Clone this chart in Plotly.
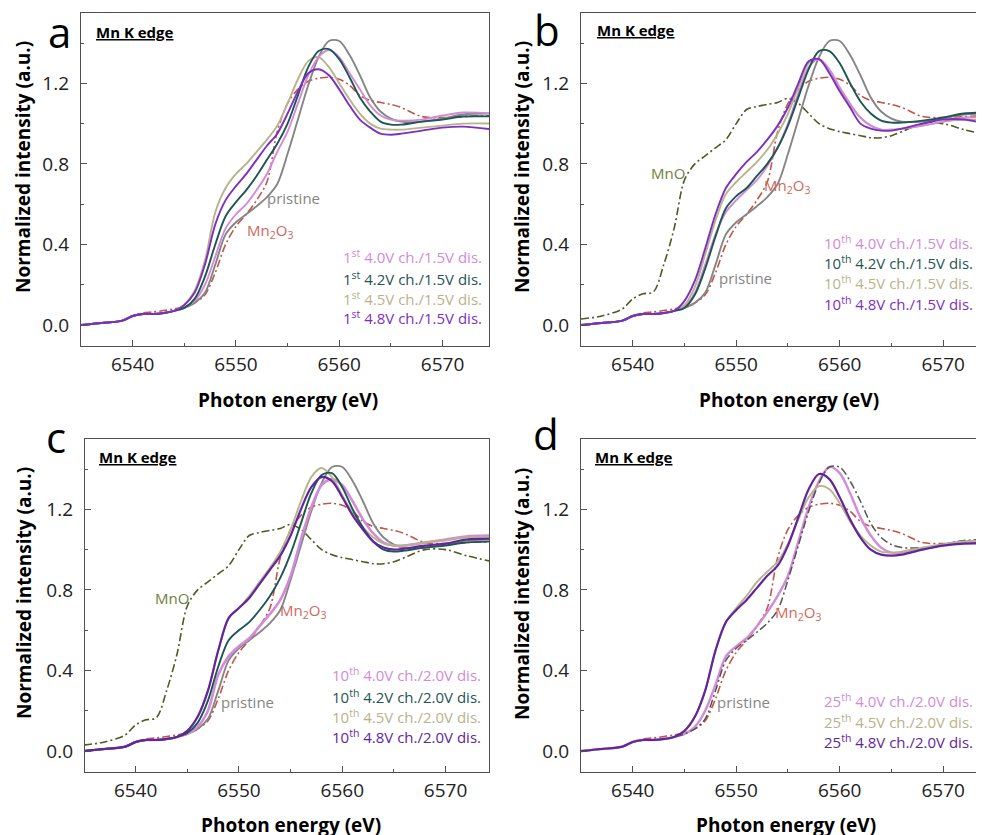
import plotly.graph_objects as go

# ---------------- data ----------------
energy = [6535, 6537, 6539, 6540, 6541, 6542, 6543, 6544, 6545, 6546, 6547, 6548, 6549, 6550,
          6551, 6552, 6553, 6554, 6555, 6556, 6557, 6558, 6559, 6560, 6561, 6562, 6563, 6564,
          6565, 6566, 6568, 6570, 6572, 6575]

pre = [0.0, 0.01, 0.022, 0.045, 0.055, 0.055, 0.06, 0.07]  # 6535..6544 pre-edge

pristine = pre + [0.085, 0.11, 0.16, 0.3, 0.45, 0.51, 0.55, 0.59, 0.635, 0.7, 0.85, 1.02, 1.19, 1.33,
                  1.41, 1.41, 1.34, 1.24, 1.13, 1.06, 1.025, 1.01, 1.01, 1.025, 1.045, 1.05]
mn2o3 = [0.0, 0.01, 0.022, 0.045, 0.06, 0.065, 0.072, 0.08, 0.09, 0.11, 0.15, 0.26, 0.4, 0.49,
         0.55, 0.62, 0.71, 0.96, 1.1, 1.17, 1.21, 1.225, 1.23, 1.22, 1.19, 1.14, 1.115, 1.105,
         1.095, 1.08, 1.035, 1.03, 1.035, 1.04]
mno = [0.03, 0.045, 0.08, 0.13, 0.155, 0.165, 0.3, 0.48, 0.72, 0.8, 0.84, 0.88, 0.92, 1.0,
       1.07, 1.085, 1.095, 1.105, 1.125, 1.1, 1.05, 1.0, 0.975, 0.96, 0.95, 0.94, 0.93, 0.93,
       0.94, 0.96, 1.0, 1.0, 0.97, 0.935]

# panel a: 1st cycle, 1.5 V discharge
a_40 = pre + [0.085, 0.12, 0.2, 0.34, 0.48, 0.55, 0.6, 0.67, 0.75, 0.86, 0.96, 1.1, 1.24, 1.33,
              1.365, 1.33, 1.25, 1.17, 1.09, 1.04, 1.02, 1.015, 1.02, 1.04, 1.055, 1.05]
a_42 = pre + [0.085, 0.13, 0.24, 0.4, 0.54, 0.61, 0.67, 0.74, 0.82, 0.9, 1.0, 1.14, 1.28, 1.36,
              1.37, 1.32, 1.23, 1.13, 1.06, 1.01, 0.995, 0.995, 1.01, 1.02, 1.035, 1.035]
a_45 = pre + [0.1, 0.17, 0.32, 0.56, 0.68, 0.75, 0.8, 0.86, 0.92, 0.99, 1.1, 1.22, 1.31, 1.33,
              1.28, 1.2, 1.12, 1.05, 1.0, 0.975, 0.97, 0.97, 0.98, 0.99, 1.0, 1.0]
a_48 = pre + [0.1, 0.16, 0.3, 0.5, 0.62, 0.69, 0.75, 0.82, 0.89, 0.95, 1.05, 1.16, 1.25, 1.27,
              1.24, 1.17, 1.09, 1.02, 0.98, 0.95, 0.945, 0.95, 0.965, 0.98, 0.985, 0.97]

# panel b: 10th cycle, 1.5 V discharge
b_40 = pre + [0.09, 0.16, 0.3, 0.45, 0.56, 0.62, 0.67, 0.72, 0.79, 0.88, 1.0, 1.15, 1.28, 1.32,
              1.27, 1.18, 1.1, 1.03, 0.99, 0.97, 0.97, 0.975, 0.99, 1.01, 1.03, 1.03]
b_42 = pre + [0.085, 0.15, 0.28, 0.44, 0.58, 0.64, 0.68, 0.74, 0.8, 0.88, 0.99, 1.13, 1.27, 1.36,
              1.36, 1.3, 1.2, 1.11, 1.05, 1.015, 1.005, 1.005, 1.015, 1.03, 1.05, 1.055]
b_45 = pre + [0.1, 0.19, 0.35, 0.52, 0.65, 0.71, 0.76, 0.81, 0.87, 0.95, 1.05, 1.18, 1.3, 1.32,
              1.26, 1.17, 1.09, 1.03, 0.99, 0.97, 0.97, 0.975, 0.99, 1.01, 1.02, 1.02]
b_48 = pre + [0.12, 0.22, 0.38, 0.55, 0.68, 0.75, 0.81, 0.86, 0.92, 0.99, 1.08, 1.2, 1.31, 1.32,
              1.25, 1.16, 1.08, 1.0, 0.975, 0.965, 0.965, 0.975, 1.0, 1.02, 1.02, 0.99]

# panel c: 10th cycle, 2.0 V discharge
c_40 = pre + [0.085, 0.12, 0.2, 0.38, 0.47, 0.52, 0.56, 0.62, 0.68, 0.75, 0.87, 1.05, 1.21, 1.32,
              1.35, 1.32, 1.24, 1.15, 1.08, 1.035, 1.02, 1.02, 1.035, 1.05, 1.065, 1.07]
c_42 = pre + [0.09, 0.14, 0.25, 0.42, 0.55, 0.6, 0.64, 0.7, 0.77, 0.86, 0.98, 1.13, 1.28, 1.37,
              1.38, 1.31, 1.2, 1.11, 1.04, 1.0, 0.99, 0.995, 1.01, 1.02, 1.035, 1.04]
c_45 = pre + [0.1, 0.17, 0.3, 0.5, 0.66, 0.71, 0.77, 0.84, 0.91, 0.99, 1.1, 1.24, 1.36, 1.405,
              1.36, 1.27, 1.18, 1.11, 1.06, 1.03, 1.02, 1.02, 1.035, 1.045, 1.06, 1.065]
c_48 = pre + [0.1, 0.17, 0.3, 0.5, 0.66, 0.71, 0.76, 0.83, 0.9, 0.97, 1.07, 1.2, 1.31, 1.36,
              1.34, 1.26, 1.17, 1.1, 1.04, 1.01, 1.0, 1.005, 1.02, 1.03, 1.05, 1.055]

# panel d: 25th cycle, 2.0 V discharge
d_40 = pre + [0.085, 0.12, 0.2, 0.33, 0.47, 0.52, 0.56, 0.62, 0.69, 0.77, 0.87, 1.04, 1.21, 1.34,
              1.41, 1.38, 1.28, 1.16, 1.07, 1.01, 0.985, 0.985, 1.005, 1.025, 1.04, 1.04]
d_45 = pre + [0.1, 0.17, 0.3, 0.5, 0.64, 0.71, 0.77, 0.84, 0.89, 0.94, 1.03, 1.15, 1.26, 1.315,
              1.3, 1.23, 1.14, 1.07, 1.02, 0.99, 0.985, 0.99, 1.01, 1.025, 1.04, 1.045]
d_48 = pre + [0.1, 0.17, 0.3, 0.5, 0.64, 0.7, 0.75, 0.81, 0.87, 0.92, 1.02, 1.16, 1.3, 1.375,
              1.35, 1.26, 1.15, 1.06, 1.0, 0.975, 0.97, 0.975, 1.0, 1.02, 1.03, 1.03]

labels_a = ["1<sup>st</sup> 4.0V ch./1.5V dis.", "1<sup>st</sup> 4.2V ch./1.5V dis.",
            "1<sup>st</sup> 4.5V ch./1.5V dis.", "1<sup>st</sup> 4.8V ch./1.5V dis."]
labels_b = ["10<sup>th</sup> 4.0V ch./1.5V dis.", "10<sup>th</sup> 4.2V ch./1.5V dis.",
            "10<sup>th</sup> 4.5V ch./1.5V dis.", "10<sup>th</sup> 4.8V ch./1.5V dis."]
labels_c = ["10<sup>th</sup> 4.0V ch./2.0V dis.", "10<sup>th</sup> 4.2V ch./2.0V dis.",
            "10<sup>th</sup> 4.5V ch./2.0V dis.", "10<sup>th</sup> 4.8V ch./2.0V dis."]
labels_d = ["25<sup>th</sup> 4.0V ch./2.0V dis.", "25<sup>th</sup> 4.5V ch./2.0V dis.",
            "25<sup>th</sup> 4.8V ch./2.0V dis."]

x_ticks = [6540, 6550, 6560, 6570]
y_ticks = [0.0, 0.4, 0.8, 1.2]

# ---------------- style ----------------
OFF = 8                      # page body margin
W, H = 984 - OFF, 835 - OFF  # figure size so it fits the window
C_PINK = "#d28bd8"
C_TEAL = "#1e5654"
C_KHAKI = "#b7b38b"
C_PURPLE = "#7d2fc2"
C_PURPLE_D = "#62259c"
C_GREY = "#858585"
C_RED = "#c2554b"
C_OLIVE = "#4e5b22"
FONT = "Open Sans"
AX = "#505050"

fig = go.Figure()

# panel geometry in screen pixels: (left, top, right, bottom, xmin, xmax)
panels = {
    1: (81, 13, 489, 346, 6535.0, 6574.5),
    2: (581, 13, 984, 346, 6535.0, 6573.94),
    3: (85, 439, 489, 772, 6535.1, 6574.2),
    4: (581, 439, 984, 772, 6535.0, 6573.94),
}
YR = [-0.104, 1.549]


def px(x):
    return (x - OFF) / W


def py(y):
    return 1 - (y - OFF) / H


def add_line(k, yvals, color, dash="solid", width=1.9):
    suffix = "" if k == 1 else str(k)
    fig.add_trace(go.Scatter(
        x=energy, y=yvals, mode="lines", xaxis="x" + suffix, yaxis="y" + suffix,
        line=dict(color=color, width=width, dash=dash, shape="spline", smoothing=0.9),
        showlegend=False, hoverinfo="skip"))


DASHDOT = "8px,3px,2px,3px"

# panel a
add_line(1, mn2o3, C_RED, DASHDOT, 1.6)
add_line(1, pristine, C_GREY)
add_line(1, a_45, C_KHAKI)
add_line(1, a_40, C_PINK)
add_line(1, a_42, C_TEAL)
add_line(1, a_48, C_PURPLE)
# panel b
add_line(2, mno, C_OLIVE, DASHDOT, 1.6)
add_line(2, mn2o3, C_RED, DASHDOT, 1.6)
add_line(2, pristine, C_GREY)
add_line(2, b_45, C_KHAKI)
add_line(2, b_40, C_PINK)
add_line(2, b_42, C_TEAL)
add_line(2, b_48, C_PURPLE)
# panel c
add_line(3, mno, C_OLIVE, DASHDOT, 1.6)
add_line(3, mn2o3, C_RED, DASHDOT, 1.6)
add_line(3, pristine, C_GREY)
add_line(3, c_40, C_PINK, width=2.6)
add_line(3, c_45, C_KHAKI)
add_line(3, c_42, C_TEAL)
add_line(3, c_48, C_PURPLE_D, width=2.2)
# panel d
add_line(4, mn2o3, C_RED, DASHDOT, 1.6)
add_line(4, d_40, C_PINK, width=2.4)
add_line(4, pristine, "#555555", DASHDOT, 1.5)
add_line(4, d_45, C_KHAKI)
add_line(4, d_48, C_PURPLE_D, width=2.2)

layout = dict(width=W, height=H, margin=dict(l=0, r=0, t=0, b=0),
              paper_bgcolor="white", plot_bgcolor="white", showlegend=False)

for k, (l, t, r, b, x0, x1) in panels.items():
    suffix = "" if k == 1 else str(k)
    full_box = k in (1, 3)
    layout["xaxis" + suffix] = dict(
        domain=[px(l), min(1.0, px(r))], range=[x0, x1], anchor="y" + suffix,
        tickmode="array", tickvals=x_ticks, ticktext=[str(v) for v in x_ticks],
        ticks="inside", ticklen=6, tickwidth=1.2, tickcolor=AX,
        minor=dict(ticks="inside", ticklen=3, tickwidth=1.1, tickcolor=AX, dtick=5, tick0=6535),
        showline=True, linecolor=AX, linewidth=1.4, mirror=True,
        showgrid=False, zeroline=False, ticklabelstandoff=1,
        tickfont=dict(family=FONT, size=19, color="#222"))
    layout["yaxis" + suffix] = dict(
        domain=[py(b), py(t)], range=YR, anchor="x" + suffix,
        tickmode="array", tickvals=y_ticks, ticktext=["%.1f" % v for v in y_ticks],
        ticks="inside", ticklen=6, tickwidth=1.2, tickcolor=AX,
        minor=dict(ticks="inside", ticklen=3, tickwidth=1.1, tickcolor=AX, dtick=0.2, tick0=0),
        showline=True, linecolor=AX, linewidth=1.4, mirror=full_box,
        showgrid=False, zeroline=False, ticklabelstandoff=7,
        tickfont=dict(family=FONT, size=19, color="#222"))

fig.update_layout(**layout)

ann = []


def text(xp, yp, s, color="#000", size=14, bold=False, xanchor="center", yanchor="middle"):
    if bold:
        s = "<b>" + s + "</b>"
    ann.append(dict(x=px(xp), y=py(yp), xref="paper", yref="paper", text=s, showarrow=False,
                    xanchor=xanchor, yanchor=yanchor,
                    font=dict(family=FONT, size=size, color=color)))


# panel letters
text(59, 32, "a", size=42)
text(547, 29, "b", size=42)
text(56, 436, "c", size=42)
text(546, 433, "d", size=42)

# Mn K edge
for (xl, yc) in [(94, 32), (595, 30), (97, 457), (593, 457)]:
    text(xl, yc, "<u>Mn K edge</u>", size=15, bold=True, xanchor="left")

# axis titles
for (xc, yc) in [(288, 400), (789, 400), (291, 825), (786, 825)]:
    text(xc, yc, "Photon energy (eV)", size=19, bold=True)
for (xc, yc) in [(23, 167), (522, 167), (24, 593), (522, 594)]:
    ann.append(dict(x=px(xc), y=py(yc), xref="paper", yref="paper",
                    text="<b>Normalized intensity (a.u.)</b>", showarrow=False, textangle=-90,
                    xanchor="center", yanchor="middle",
                    font=dict(family=FONT, size=19, color="#000")))

# curve labels
sub = "Mn<sub>2</sub>O<sub>3</sub>"
text(293, 198, "pristine", C_GREY, 15)
text(270, 231, sub, "#d0685c", 15)
text(668, 173, "MnO", "#6e8038", 15)
text(787, 186, sub, "#d0685c", 15)
text(745, 278, "pristine", C_GREY, 15)
text(172, 598, "MnO", "#6e8038", 15)
text(303, 611, sub, "#d0685c", 15)
text(247, 702, "pristine", C_GREY, 15)
text(798, 613, sub, "#d0685c", 15)
text(743, 702, "pristine", C_GREY, 15)

# series labels
cols4 = [C_PINK, C_TEAL, C_KHAKI, C_PURPLE]
for lab, col, yc in zip(labels_a, cols4, [257, 278, 298, 318]):
    text(484, yc, lab, col, 15, xanchor="right")
for lab, col, yc in zip(labels_b, cols4, [242, 263, 283, 303]):
    text(975, yc, lab, col, 15, xanchor="right")
for lab, col, yc in zip(labels_c, [C_PINK, C_TEAL, C_KHAKI, C_PURPLE_D], [674, 696, 716, 736]):
    text(483, yc, lab, col, 15, xanchor="right")
for lab, col, yc in zip(labels_d, [C_PINK, C_KHAKI, C_PURPLE_D], [700, 721, 741]):
    text(975, yc, lab, col, 15, xanchor="right")

fig.update_layout(annotations=ann)
fig.write_html("out.html")
